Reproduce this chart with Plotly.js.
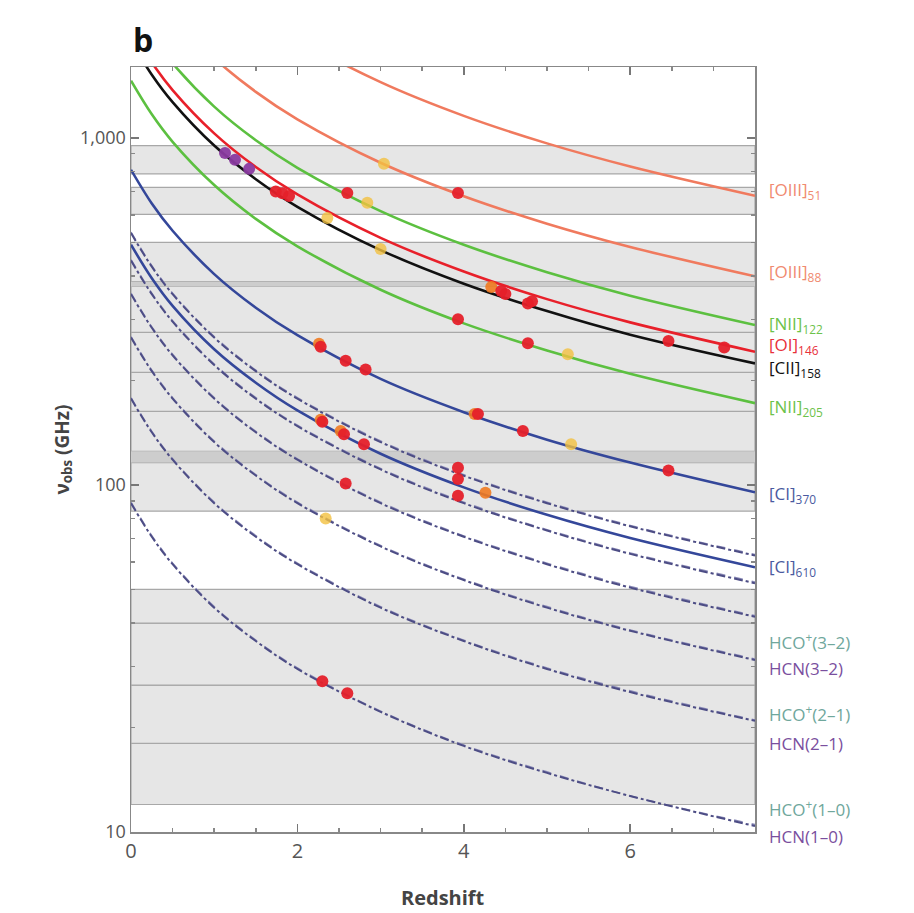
<!DOCTYPE html>
<html><head><meta charset="utf-8">
<script src="https://cdn.plot.ly/plotly-3.0.1.min.js"></script>
<style>html,body{margin:0;padding:0;background:#fff}#chart{width:914px;height:913px}</style>
</head><body><div id="chart"></div>
<script>
// Redshift grid at which curve values were read
const zGrid = [0,0.25,0.5,1,1.5,2,3,4,5,6,7.5];
// Fine-structure lines (GHz)
const oiii51 = [5786,4629,3857,2893,2314,1929,1447,1157,964,827,681];
const oiii88 = [3393,2714,2262,1697,1357,1131,848,679,566,485,399];
const nii122 = [2459,1967,1639,1230,984,820,615,492,410,351,289];
const oi146  = [2060,1648,1373,1030,824,687,515,412,343,294,242];
const cii158 = [1900,1520,1267,950,760,633,475,380,317,271,224];
const nii205 = [1461,1169,974,731,584,487,365,292,244,209,172];
const ci370  = [809,647,540,405,324,270,202,162,135,116,95.2];
const ci610  = [492,394,328,246,197,164,123,98.4,82.0,70.3,57.9];
// Dense gas tracers (GHz)
const hcn10 = [88.6,70.9,59.1,44.3,35.5,29.5,22.2,17.7,14.8,12.7,10.4];
const hcn21 = [177.3,141.8,118.2,88.6,70.9,59.1,44.3,35.5,29.5,25.3,20.9];
const hcn32 = [265.9,212.7,177.3,132.9,106.4,88.6,66.5,53.2,44.3,38.0,31.3];
const hcn43 = [354.5,283.6,236.3,177.3,141.8,118.2,88.6,70.9,59.1,50.6,41.7];
const hcn54 = [443.1,354.5,295.4,221.6,177.2,147.7,110.8,88.6,73.9,63.3,52.1];
const hcn65 = [531.7,425.4,354.5,265.9,212.7,177.2,132.9,106.3,88.6,76.0,62.6];
const hco10 = [89.2,71.4,59.5,44.6,35.7,29.7,22.3,17.8,14.9,12.7,10.5];
const hco21 = [178.4,142.7,118.9,89.2,71.4,59.5,44.6,35.7,29.7,25.5,21.0];
const hco32 = [267.6,214.0,178.4,133.8,107.0,89.2,66.9,53.5,44.6,38.2,31.5];
const hco43 = [356.7,285.4,237.8,178.4,142.7,118.9,89.2,71.3,59.5,51.0,42.0];
const hco54 = [445.9,356.7,297.3,223.0,178.4,148.6,111.5,89.2,74.3,63.7,52.5];
const hco65 = [535.1,428.0,356.7,267.6,214.0,178.4,133.8,107.0,89.2,76.4,63.0];
// Detections
const purpleZ = [1.13,1.25,1.42];
const purpleNu = [905,865,814];
const redZ = [1.74,1.82,1.90,2.6,3.93,4.45,4.5,4.77,4.82,6.46,7.13,3.93,4.77,2.28,2.58,2.82,2.3,2.56,2.8,4.17,4.71,6.46,2.58,3.93,3.93,3.93,2.3,2.6];
const redNu = [700,692,680,694,694,362,355,333,338,260,249,300,256,250,228,215,152,140,131,160,143,110,101,112,104,93,27.2,25.1];
const orangeZ = [2.26,2.28,2.52,4.13,4.26,4.33];
const orangeNu = [255,154,143,160,95,372];
const yellowZ = [3.04,2.84,2.36,5.25,5.29,2.34,3.0];
const yellowNu = [842,650,588,238,131,80,478];
// Observing bands (GHz)
const bandLo = [12,18,26.5,40,84,125,163,211,275,385,602,787];
const bandHi = [18,26.5,40,50,116,163,211,275,373,500,720,950];
const gapLo = [116,373];
const gapHi = [125,385];
// Right-hand labels
const labelText = ['[OIII]<sub>51</sub>','[OIII]<sub>88</sub>','[NII]<sub>122</sub>','[OI]<sub>146</sub>','[CII]<sub>158</sub>','[NII]<sub>205</sub>','[CI]<sub>370</sub>','[CI]<sub>610</sub>','HCO<sup>+</sup>(3–2)','HCN(3–2)','HCO<sup>+</sup>(2–1)','HCN(2–1)','HCO<sup>+</sup>(1–0)','HCN(1–0)'];
const labelNu = [703,408,290,252,217,167,94,57.7,35.5,29.5,22.0,18.0,11.7,9.73];
const labelColor = ['#f08a70','#f08a70','#6cc24a','#e8303a','#111111','#6cc24a','#4a5aa0','#4a5aa0','#6fa79c','#7a4f9e','#6fa79c','#7a4f9e','#6fa79c','#7a4f9e'];

const yTop = 1600;
const traces = [];
function dense(y, col, dash, w){
  traces.push({x:zGrid, y:y, mode:'lines', line:{color:col, width:w, dash:dash, shape:'spline'}, hoverinfo:'skip'});
}
[hco10,hco21,hco32,hco43,hco54,hco65].forEach(a=>dense(a,'#8c8cb8','dash',1.6));
[hcn10,hcn21,hcn32,hcn43,hcn54,hcn65].forEach(a=>dense(a,'#4d4d85','dashdot',2));
function solid(y, col){
  traces.push({x:zGrid, y:y, mode:'lines', line:{color:col, width:2.6, shape:'spline'}, hoverinfo:'skip'});
}
solid(oiii51,'#f07a5e'); solid(oiii88,'#f07a5e'); solid(nii122,'#5cc040');
solid(nii205,'#5cc040'); solid(ci370,'#34479a'); solid(ci610,'#34479a');
solid(cii158,'#111111'); solid(oi146,'#e8202a');
function pts(x,y,col,op){
  traces.push({x:x, y:y, mode:'markers', marker:{color:col, size:12, opacity:op, line:{width:0}}, hoverinfo:'skip'});
}
pts(yellowZ,yellowNu,'#f2c040',0.8);
pts(orangeZ,orangeNu,'#f07a20',0.9);
pts(redZ,redNu,'#e5202a',0.95);
pts(purpleZ,purpleNu,'#8a3aa0',0.95);

const shapes = [];
bandLo.forEach((lo,i)=>{
  shapes.push({type:'rect', xref:'paper', yref:'y', x0:0, x1:1, y0:lo, y1:bandHi[i], fillcolor:'#e6e6e6', line:{color:'#a8a8a8', width:1.2}, layer:'below'});
});
gapLo.forEach((lo,i)=>{
  shapes.push({type:'rect', xref:'paper', yref:'y', x0:0, x1:1, y0:lo, y1:gapHi[i], fillcolor:'#cdcdcd', line:{width:0}, layer:'below'});
});

const logSpan = Math.log10(yTop) - 1;
const annotations = labelText.map((t,i)=>({
  xref:'paper', yref:'paper', x:1, xshift:12, y:(Math.log10(labelNu[i]) - 1)/logSpan, xanchor:'left', yanchor:'middle',
  text:t, showarrow:false, font:{family:'Open Sans, sans-serif', size:17, color:labelColor[i]}
}));
annotations.push({xref:'paper', yref:'paper', x:0, y:1, xanchor:'left', yanchor:'bottom', yshift:4, text:'<b>b</b>', showarrow:false, font:{family:'Open Sans, sans-serif', size:32, color:'#111'}});
annotations.push({xref:'paper', yref:'paper', x:0.5, y:0, yshift:-65, xanchor:'center', yanchor:'middle', text:'<b>Redshift</b>', showarrow:false, font:{family:'Open Sans, sans-serif', size:20, color:'#444'}});
annotations.push({xref:'paper', yref:'paper', x:0, xshift:-69, y:0.5, xanchor:'center', yanchor:'middle', textangle:-90, text:'<b>ν<sub>obs</sub> (GHz)</b>', showarrow:false, font:{family:'Open Sans, sans-serif', size:19, color:'#444'}});

const layout = {
  width:914, height:913,
  margin:{l:131, r:159, t:67, b:81},
  paper_bgcolor:'#fff', plot_bgcolor:'#fff',
  showlegend:false,
  xaxis:{range:[0,7.5], tickvals:[0,2,4,6], ticks:'inside', ticklen:8, tickcolor:'#777', tickwidth:1.5,
    showline:true, linecolor:'#888', linewidth:1.5, mirror:'ticks', showgrid:false, zeroline:false,
    minor:{dtick:0.5, ticks:'inside', ticklen:4, tickcolor:'#888', showgrid:false},
    tickfont:{family:'Open Sans, sans-serif', size:20, color:'#555'}},
  yaxis:{type:'log', range:[1, Math.log10(yTop)], tickvals:[10,100,1000], ticktext:['10','100','1,000'],
    ticks:'inside', ticklen:8, tickcolor:'#777', tickwidth:1.5,
    showline:true, linecolor:'#888', linewidth:1.5, mirror:'ticks', showgrid:false, zeroline:false,
    minor:{dtick:'D1', ticks:'inside', ticklen:4, tickcolor:'#888', showgrid:false},
    tickfont:{family:'Open Sans, sans-serif', size:18, color:'#555'}},
  shapes:shapes, annotations:annotations
};
Plotly.newPlot('chart', traces, layout, {displayModeBar:false, staticPlot:true});
</script></body></html>
